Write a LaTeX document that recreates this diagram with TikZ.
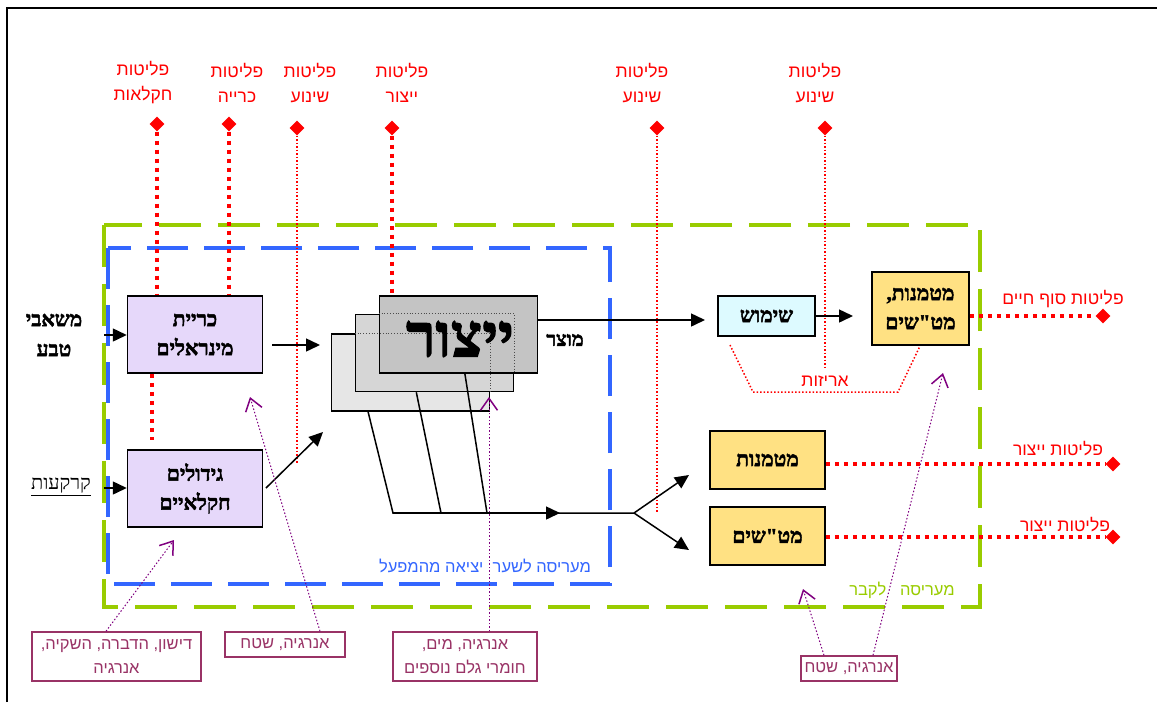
\documentclass[tikz,border=0pt]{standalone}
\usepackage{fontspec}
\usetikzlibrary{arrows.meta,shapes.geometric,calc}
\TeXXeTstate=1
\newfontfamily\heb[Script=Hebrew]{Liberation Sans}
\newfontfamily\hebs[Script=Hebrew]{Liberation Serif}
\newfontfamily\hebb[Script=Hebrew, FakeBold=2.2]{Liberation Serif Bold}
\newcommand\RL[1]{\beginR #1\endR}
\definecolor{grn}{HTML}{99CC00}
\definecolor{blu}{HTML}{3366FF}
\definecolor{pur}{HTML}{800080}
\definecolor{lbl}{HTML}{993366}
\definecolor{lav}{HTML}{E6D8FA}
\definecolor{yel}{HTML}{FFE183}
\definecolor{cya}{HTML}{DDFAFF}
\definecolor{g1}{HTML}{C4C4C4}
\definecolor{g2}{HTML}{D6D6D6}
\definecolor{g3}{HTML}{E6E6E6}
\begin{document}
\begin{tikzpicture}[x=1pt,y=-1pt,
  box/.style={draw=black, line width=1.5pt, inner sep=0pt, align=center,
    font=\hebb\fontsize{21}{29}\selectfont},
  redlab/.style={text=red, align=center, font=\heb\fontsize{17.5}{25}\selectfont},
  dia/.style={diamond, fill=red, inner sep=0pt, minimum size=15pt},
  thickdot/.style={red, line width=4pt, dash pattern=on 4pt off 5pt},
  thindot/.style={red, line width=1.5pt, dash pattern=on 1.5pt off 2pt},
  arr/.style={line width=1.5pt, -{Triangle[length=14pt,width=13pt]}},
  parr/.style={pur, line width=1pt, dash pattern=on 1.5pt off 2pt,
    -{Straight Barb[length=12pt,width=17pt,line width=1.5pt]}},
  lbox/.style={draw=lbl, line width=1.5pt, text=lbl, align=center, inner sep=0pt,
    font=\heb\fontsize{16.5}{24}\selectfont},
  stk/.style={draw=black, line width=1.5pt, minimum width=158pt, minimum height=77pt, inner sep=0pt}
]
\useasboundingbox (0,0) rectangle (1157,702);
\fill[white] (0,0) rectangle (1157,702);
% frame
\draw[line width=2pt] (7,702) -- (7,8) -- (1157,8);

% boundary rectangles
\draw[grn, line width=4pt, dash pattern=on 42pt off 17pt] (104,225) rectangle (980,607);
\draw[blu, line width=4pt, dash pattern=on 41pt off 16pt] (108,248) rectangle (610,584);
\node[text=blu, font=\heb\fontsize{16.5}{18}\selectfont] (blab) at (485,566) {\RL{מעריסה לשער\ \ יציאה מהמפעל}};
\node[text=grn, font=\heb\fontsize{16.5}{18}\selectfont] (glab) at (902,590) {\RL{מעריסה\ \ \ לקבר}};

% top labels and diamonds
\node[redlab] (l1) at (143,83) {\RL{פליטות}\\\RL{חקלאות}};
\node[redlab] (l2) at (237,83) {\RL{פליטות}\\\RL{כרייה}};
\node[redlab] (l3) at (310,83) {\RL{פליטות}\\\RL{שינוע}};
\node[redlab] (l4) at (402,83) {\RL{פליטות}\\\RL{ייצור}};
\node[redlab] (l5) at (642,83) {\RL{פליטות}\\\RL{שינוע}};
\node[redlab] (l6) at (815,83) {\RL{פליטות}\\\RL{שינוע}};
\node[dia] (d1) at (157,124) {};
\node[dia] (d2) at (229,124) {};
\node[dia] (d3) at (297,128) {};
\node[dia] (d4) at (392,128) {};
\node[dia] (d5) at (657,128) {};
\node[dia] (d6) at (825,128) {};

% main boxes
\node[box, fill=lav, minimum width=135pt, minimum height=77pt] (kr) at (195,334.5) {\RL{כריית}\\\RL{מינראלים}};
\node[box, fill=lav, minimum width=135pt, minimum height=77pt] (gd) at (195,488.5) {\RL{גידולים}\\\RL{חקלאיים}};
\node[stk, fill=g3] (back) at (410.5,372.5) {};
\node[stk, fill=g2] (mid) at (434.5,353) {};
\node[stk, fill=g1] (front) at (458.5,334.5) {};
\draw[black!70, line width=0.8pt, dotted] (front.west |- mid.north) -- (mid.north east) -- (mid.north east |- front.south);
\draw[black!70, line width=0.8pt, dotted] (mid.west |- back.north) -- (back.north east) -- (back.north east |- mid.south);
\node[font=\hebb\fontsize{60}{64}\selectfont, inner sep=0pt] (yt) at (460,339) {\RL{ייצור}};
\node[font=\hebb\fontsize{20}{22}\selectfont] (mz) at (565,340) {\RL{מוצר}};

\node[box, fill=cya, minimum width=97pt, minimum height=40pt] (sh) at (766.5,316) {\RL{שימוש}};
\node[box, fill=yel, minimum width=97pt, minimum height=73pt] (mm) at (920.5,308.5) {\RL{מטמנות,}\\\RL{מט"שים}};
\node[box, fill=yel, minimum width=115pt, minimum height=58pt] (mt) at (767.5,460) {\RL{מטמנות}};
\node[box, fill=yel, minimum width=115pt, minimum height=58pt] (ms) at (767.5,536) {\RL{מט"שים}};

% left inputs
\node[font=\hebb\fontsize{21}{30}\selectfont, align=center] (nat) at (54,335) {\RL{משאבי}\\\RL{טבע}};
\node[font=\hebs\fontsize{20}{22}\selectfont, inner sep=1pt] (soil) at (61,487) {\RL{\underline{קרקעות}}};
\coordinate (a1) at (104,335);
\coordinate (a2) at (104,488);
\draw[arr] (a1) -- (kr.west |- a1);
\draw[arr] (a2) -- (gd.west |- a2);

% red emission lines (top)
\draw[thickdot] (d1) -- (d1 |- kr.north);
\draw[thickdot] (d2) -- (d2 |- kr.north);
\draw[thickdot] (d4) -- (d4 |- front.north);
\coordinate (e3) at (297,463);
\coordinate (e5) at (657,513);
\coordinate (e6) at (825,367);
\draw[thindot] (d3) -- (e3);
\draw[thindot] (d5) -- (e5);
\draw[thindot] (d6) -- (e6);
\coordinate (k2) at (152,440);
\draw[thickdot] (k2 |- kr.south) -- (k2);

% flow arrows
\coordinate (s1) at (272,345);
\coordinate (s1e) at (320,345);
\draw[arr] (s1) -- (s1e);
\coordinate (s2) at (266,488);
\coordinate (s2e) at (323,432);
\draw[arr] (s2) -- (s2e);
\coordinate (p0) at (537,320);
\coordinate (p1) at (705,320);
\draw[arr] (p0) -- (p1);
\coordinate (q1) at (853,316);
\draw[arr] (sh.east |- q1) -- (q1);

% stack outputs
\coordinate (h1) at (393,513);
\coordinate (h2) at (441,513);
\coordinate (h3) at (487,513);
\coordinate (m1) at (560,513);
\coordinate (br) at (634,513);
\coordinate (t1) at (689,475);
\coordinate (t2) at (689,550);
\draw[line width=1.5pt] ($(back.south west)!0.234!(back.south east)$) -- (h1) -- (br);
\draw[line width=1.5pt] ($(mid.south west)!0.386!(mid.south east)$) -- (h2);
\draw[line width=1.5pt] ($(front.south west)!0.54!(front.south east)$) -- (h3);
\draw[arr] (h1) -- (m1);
\draw[arr] (br) -- (t1);
\draw[arr] (br) -- (t2);

% packaging
\coordinate (pk1) at (730,345);
\coordinate (pk2) at (753,392);
\coordinate (pk3) at (898,392);
\coordinate (pk4) at (920,346);
\draw[thindot] (pk1) -- (pk2) -- (pk3) -- (pk4);
\node[text=red, font=\heb\fontsize{17.5}{19}\selectfont, fill=white, inner sep=0.5pt] (ar) at (825,381) {\RL{אריזות}};

% right emissions
\node[dia] (r1) at (1103,316) {};
\node[dia] (r2) at (1113,464) {};
\node[dia] (r3) at (1113,537) {};
\draw[thickdot] (r1 -| mm.east) -- (r1);
\draw[thickdot] (r2 -| mt.east) -- (r2);
\draw[thickdot] (r3 -| ms.east) -- (r3);
\node[redlab] (rl1) at (1063,299) {\RL{פליטות סוף חיים}};
\node[redlab] (rl2) at (1058,449) {\RL{פליטות ייצור}};
\node[redlab] (rl3) at (1065,525) {\RL{פליטות ייצור}};

% bottom input labels
\node[lbox, minimum width=169pt, minimum height=49pt] (b1) at (116.5,656.5) {\RL{דישון, הדברה, השקיה,}\\\RL{אנרגיה}};
\node[lbox, minimum width=120pt, minimum height=25pt] (b2) at (285,644.5) {\RL{אנרגיה, שטח}};
\node[lbox, minimum width=144pt, minimum height=49pt] (b3) at (465,656.5) {\RL{אנרגיה, מים,}\\\RL{חומרי גלם נוספים}};
\node[lbox, minimum width=96pt, minimum height=25pt] (b4) at (849,668.5) {\RL{אנרגיה, שטח}};
\coordinate (u1) at (174,540);
\coordinate (u2) at (250,397);
\coordinate (u3) at (489,397);
\coordinate (u4) at (803,589);
\coordinate (u5) at (943,373);
\draw[parr] (b1.north -| 106,0) -- (u1);
\draw[parr] (b2.north -| 320,0) -- (u2);
\draw[parr] (b3.north -| 489,0) -- (u3);
\draw[parr] (b4.north -| 824,0) -- (u4);
\draw[parr] (b4.north -| 873,0) -- (u5);
\end{tikzpicture}
\end{document}
